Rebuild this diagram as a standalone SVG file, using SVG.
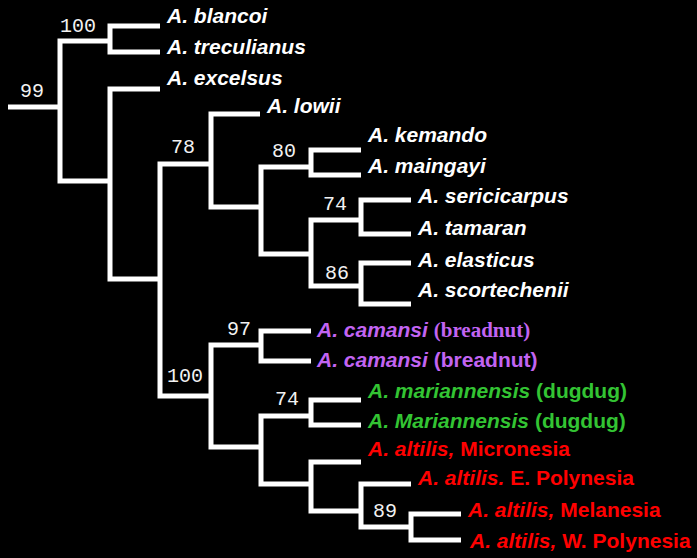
<svg xmlns="http://www.w3.org/2000/svg" width="697" height="558" viewBox="0 0 697 558">
<style>
.br{fill:none;stroke:#ffffff;stroke-width:5;stroke-linecap:butt;stroke-linejoin:miter}
.bs{font-family:"Liberation Mono","DejaVu Sans Mono",monospace;font-size:20px;fill:#f2f2f2}
.sp{font-family:"Liberation Sans",Arial,sans-serif;font-size:21px;font-weight:bold;font-style:italic}
.pl{font-style:normal}
.sf{font-family:"Liberation Serif","Times New Roman",serif;font-style:normal}
.w{fill:#ffffff}
.p{fill:#c264f2}
.g{fill:#33c433}
.r{fill:#ff0000}
</style>
<rect x="0" y="0" width="697" height="558" fill="#000000"/>
<g id="connectors">
<path class="br" d="M 8 107 H 60"/>
<path class="br" d="M 110 41 H 60 V 181 H 110"/>
<path class="br" d="M 160 26 H 110 V 52 H 160"/>
<path class="br" d="M 160 89 H 110 V 279 H 160"/>
<path class="br" d="M 211 164 H 160 V 396 H 211"/>
<path class="br" d="M 260 114 H 211 V 207 H 261"/>
<path class="br" d="M 311 167 H 261 V 254 H 311"/>
<path class="br" d="M 361 150 H 311 V 175 H 361"/>
<path class="br" d="M 361 220 H 311 V 286 H 361"/>
<path class="br" d="M 411 200 H 361 V 234 H 411"/>
<path class="br" d="M 411 263 H 361 V 304 H 411"/>
<path class="br" d="M 261 345 H 211 V 447 H 261"/>
<path class="br" d="M 311 331 H 261 V 361 H 311"/>
<path class="br" d="M 311 416 H 261 V 484 H 311"/>
<path class="br" d="M 361 400 H 311 V 425 H 361"/>
<path class="br" d="M 361 462 H 311 V 511 H 361"/>
<path class="br" d="M 411 484 H 361 V 527 H 411"/>
<path class="br" d="M 461 514 H 411 V 540 H 461"/>
</g>
<g id="support">
<text class="bs" x="20" y="97">99</text>
<text class="bs" x="60" y="32">100</text>
<text class="bs" x="171" y="153">78</text>
<text class="bs" x="272" y="157">80</text>
<text class="bs" x="323" y="210">74</text>
<text class="bs" x="325" y="279">86</text>
<text class="bs" x="227" y="335">97</text>
<text class="bs" x="167" y="382">100</text>
<text class="bs" x="275" y="405">74</text>
<text class="bs" x="373" y="517">89</text>
</g>
<g id="leaf-blancoi"><text class="sp w" x="167" y="23">A. blancoi</text></g>
<g id="leaf-treculianus"><text class="sp w" x="167" y="54">A. treculianus</text></g>
<g id="leaf-excelsus"><text class="sp w" x="167" y="85">A. excelsus</text></g>
<g id="leaf-lowii"><text class="sp w" x="267" y="113">A. lowii</text></g>
<g id="leaf-kemando"><text class="sp w" x="368" y="142">A. kemando</text></g>
<g id="leaf-maingayi"><text class="sp w" x="368" y="173">A. maingayi</text></g>
<g id="leaf-sericicarpus"><text class="sp w" x="418" y="203">A. sericicarpus</text></g>
<g id="leaf-tamaran"><text class="sp w" x="418" y="235">A. tamaran</text></g>
<g id="leaf-elasticus"><text class="sp w" x="418" y="267">A. elasticus</text></g>
<g id="leaf-scortechenii"><text class="sp w" x="418" y="297">A. scortechenii</text></g>
<g id="leaf-camansi-1"><text class="sp p" x="317" y="337">A. camansi <tspan class="sf">(breadnut)</tspan></text></g>
<g id="leaf-camansi-2"><text class="sp p" x="317" y="367">A. camansi <tspan class="pl">(breadnut)</tspan></text></g>
<g id="leaf-mariannensis-1"><text class="sp g" x="368" y="398">A. mariannensis <tspan class="pl">(dugdug)</tspan></text></g>
<g id="leaf-mariannensis-2"><text class="sp g" x="368" y="428">A. Mariannensis <tspan class="pl">(dugdug)</tspan></text></g>
<g id="leaf-micronesia"><text class="sp r" x="368" y="456">A. altilis, <tspan class="pl">Micronesia</tspan></text></g>
<g id="leaf-e-polynesia"><text class="sp r" x="418" y="485">A. altilis. <tspan class="pl">E. Polynesia</tspan></text></g>
<g id="leaf-melanesia"><text class="sp r" x="468" y="517">A. altilis, <tspan class="pl">Melanesia</tspan></text></g>
<g id="leaf-w-polynesia"><text class="sp r" x="470" y="548">A. altilis, <tspan class="pl">W. Polynesia</tspan></text></g>
</svg>
